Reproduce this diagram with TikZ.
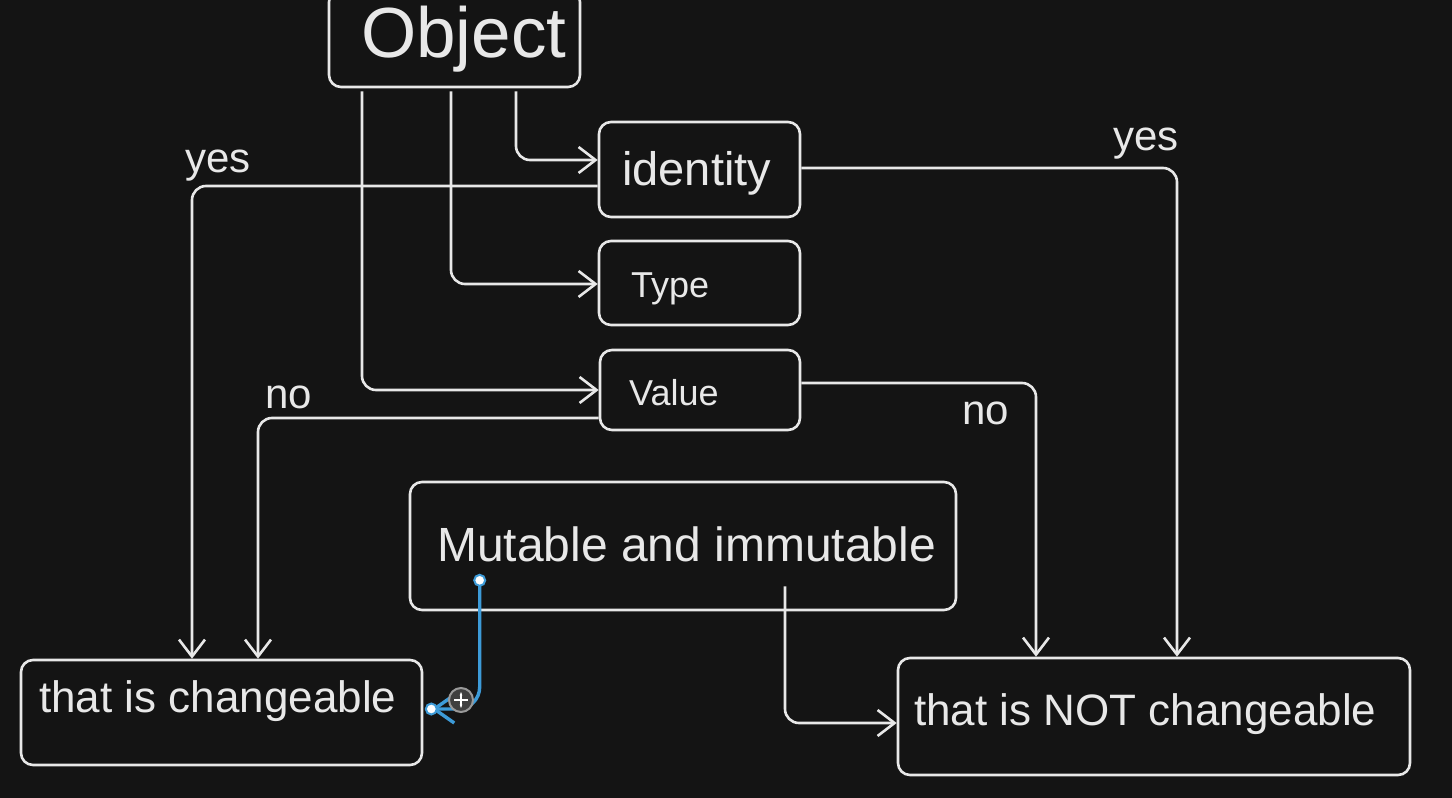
\documentclass[tikz,border=0pt]{standalone}
\usepackage{fontspec}
\setmainfont{Liberation Sans}
\usetikzlibrary{arrows.meta,calc}
\definecolor{bg}{HTML}{141414}
\definecolor{ink}{HTML}{E8E8E8}
\definecolor{sel}{HTML}{3D9BD8}
\begin{document}
\begin{tikzpicture}[x=1pt,y=-1pt,
 box/.style={draw=ink,line width=2.6pt,rounded corners=12pt,inner sep=0pt},
 lbl/.style={text=ink,inner sep=0pt,anchor=base west},
 conn/.style={draw=ink,line width=2.6pt,rounded corners=14pt,-{Straight Barb[length=17pt,width=26pt,line width=2.6pt]}},
]
\fill[bg] (0,0) rectangle (1452,798);
\useasboundingbox (0,0) rectangle (1452,798);
% boxes
\node[box,minimum width=251pt,minimum height=97pt] (obj) at (454.5,38.5) {};
\node[box,minimum width=201pt,minimum height=95pt] (ident) at (699.5,169.5) {};
\node[box,minimum width=201pt,minimum height=84pt] (type) at (699.5,283) {};
\node[box,minimum width=200pt,minimum height=80pt] (value) at (700,390) {};
\node[box,minimum width=546pt,minimum height=128pt] (mut) at (683,546) {};
\node[box,minimum width=401pt,minimum height=105pt] (chg) at (221.5,712.5) {};
\node[box,minimum width=512pt,minimum height=117pt] (notchg) at (1154,716.5) {};
% texts
\node[lbl,font=\fontsize{71}{80}\selectfont] (objT) at (361,57) {Object};
\node[lbl,font=\fontsize{47}{54}\selectfont] (identT) at (622,185) {identity};
\node[lbl,font=\fontsize{36}{42}\selectfont] (typeT) at (631,297) {Type};
\node[lbl,font=\fontsize{36}{42}\selectfont] (valueT) at (629,405) {Value};
\node[lbl,font=\fontsize{48}{56}\selectfont] (mutT) at (437,561) {Mutable and immutable};
\node[lbl,font=\fontsize{44}{50}\selectfont] (chgT) at (39,712) {that is changeable};
\node[lbl,font=\fontsize{44}{50}\selectfont] (notchgT) at (914,725) {that is NOT changeable};
\node[lbl,font=\fontsize{42}{48}\selectfont] (yes1) at (185,172) {yes};
\node[lbl,font=\fontsize{42}{48}\selectfont] (yes2) at (1113,150) {yes};
\node[lbl,font=\fontsize{42}{48}\selectfont] (no1) at (265,408) {no};
\node[lbl,font=\fontsize{42}{48}\selectfont] (no2) at (962,424) {no};
% connectors
\draw[conn] ($(obj.south)+(61.5,3)$) |- ($(ident.west)+(0,-9.5)$);
\draw[conn] ($(obj.south)+(-3.5,3)$) |- ($(type.west)+(0,1)$);
\draw[conn] ($(obj.south)+(-92.5,3)$) |- (value.west);
\draw[conn] ($(ident.west)+(0,16.5)$) -| ($(chg.north)+(-29.5,0)$);
\draw[conn] ($(value.west)+(0,28)$) -| ($(chg.north)+(36.5,0)$);
\draw[conn] ($(ident.east)+(0,-1.5)$) -| ($(notchg.north)+(23,0)$);
\draw[conn] ($(value.east)+(0,-7)$) -| ($(notchg.north)+(-118,0)$);
\draw[conn] ($(mut.south)+(102,-25)$) |- ($(notchg.west)+(0,6.5)$);
% selected connector
\coordinate (bs) at ($(mut.south west)+(71,-31)$);
\coordinate (be) at ($(chg.east)+(8,-3.5)$);
\draw[sel,line width=3.4pt,rounded corners=22pt,-{Straight Barb[length=20pt,width=28pt,line width=3.4pt]}] (bs) |- (be);
\node[circle,draw=gray!80,line width=2pt,fill=bg!60!gray,inner sep=0pt,minimum size=24pt] (cur) at (461,700) {};
\draw[white,line width=1.4pt] ($(cur.center)+(-7,0)$) -- ($(cur.center)+(7,0)$);
\draw[white,line width=1.4pt,{Stealth[length=3.5pt]}-{Stealth[length=3.5pt]}] ($(cur.center)+(0,-8)$) -- ($(cur.center)+(0,8)$);
\node[circle,fill=white,draw=sel,line width=2pt,inner sep=0pt,minimum size=11pt] (h1) at (bs) {};
\node[circle,fill=white,draw=sel,line width=2pt,inner sep=0pt,minimum size=11pt] (h2) at (be) {};
\end{tikzpicture}
\end{document}
